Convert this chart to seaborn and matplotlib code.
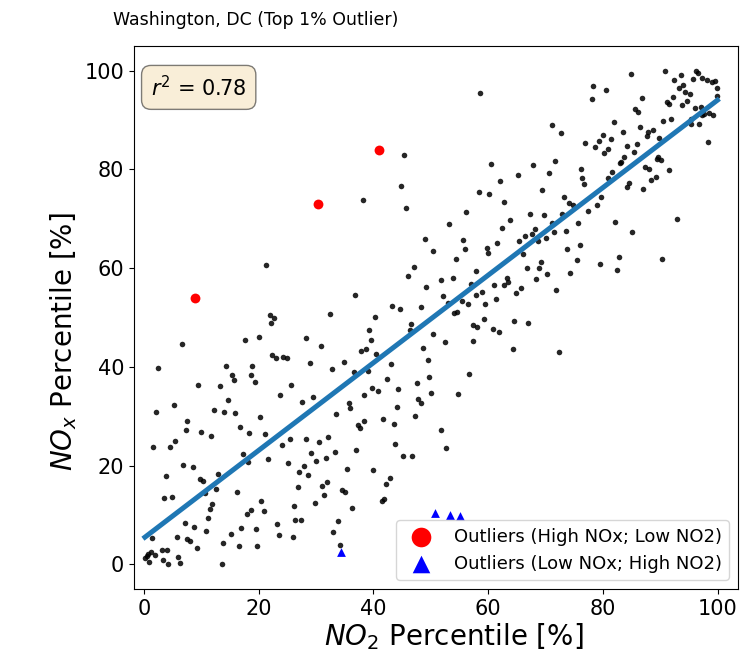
# NO2 vs NOx percentile scatter for Washington, DC with regression line
import seaborn as sb
import matplotlib
matplotlib.use('Agg')
import matplotlib.pyplot as plt
import numpy as np

# background points (NO2 percentile, NOx percentile)
no2_pct = [
    2.2, 7.6, 7.3, 10.0, 11.7, 5.4, 4.6, 1.6, 6.8, 8.5, 3.8, 9.8, 10.4, 13.0, 12.5, 10.6, 4.9, 3.5, 11.9, 11.5,
    11.1, 7.1, 8.8, 10.9, 5.7, 1.4, 7.6, 8.1, 9.2, 4.1, 3.1, 1.2, 0.8, 0.5, 0.2, 0.9, 1.9, 3.4, 4.3, 6.0,
    6.3, 13.6, 13.8, 15.2, 16.5, 17.0, 17.9, 18.7, 20.5, 20.9, 19.5, 19.8, 23.2, 23.5, 16.3, 17.3, 18.1, 20.3, 18.4, 21.1,
    16.8, 12.2, 14.0, 15.9, 21.7, 24.0,
    21.3, 21.9, 22.7, 22.2, 20.1, 17.6, 6.6, 22.4, 23.0, 24.3, 2.4, 14.4, 18.9, 15.4, 15.7, 18.7, 19.3, 9.5, 13.3, 23.8,
    14.7, 5.2,
    33.5, 38.4, 37.3, 37.6, 41.6, 43.5, 47.3, 25.4, 28.3, 30.5, 32.1, 43.8, 29.2, 30.0, 31.7, 33.3, 37.0, 25.2, 27.9, 27.0,
    28.6, 35.4, 39.9, 45.1, 46.7, 26.8, 31.1, 31.9, 31.4, 34.6, 35.1, 42.8, 42.2, 29.8, 36.3, 41.5, 41.9, 26.2, 26.4, 27.3,
    33.9, 33.0, 26.0, 34.1, 51.7, 52.7,
    45.4, 44.8, 38.1, 45.7,
    58.6, 71.1, 72.6, 60.5, 67.8, 71.6, 65.1, 70.6, 62.1, 76.2, 76.4, 76.6, 58.3, 60.2, 69.4, 62.7, 73.2, 74.0, 74.7, 56.2,
    67.3, 69.7, 72.9, 63.8, 53.1, 71.1, 75.7, 76.9,
    84.8, 90.8, 96.2, 96.6, 93.5, 92.3, 97.3, 98.1, 99.0, 99.5, 95.6, 94.0, 93.2, 94.3, 95.1, 99.9, 78.3, 80.5, 78.0, 86.7,
    92.1, 91.1, 91.4, 94.6, 93.8, 99.8, 85.6, 86.1, 96.0, 97.0, 97.3, 97.6, 99.2, 98.4, 90.5, 91.8, 95.3, 95.3, 96.7, 81.9,
    86.4, 88.7, 87.8, 87.6, 83.5, 79.9, 79.2, 81.3, 78.6, 80.8, 80.2, 89.8, 89.6, 89.3, 90.0, 84.1, 85.9, 85.3, 83.7, 83.1,
    82.9, 98.3, 91.5, 87.3, 88.0, 81.6, 80.9, 89.2, 88.4, 84.5, 84.2, 87.0, 79.7, 78.9, 77.3, 82.1, 92.9,
    85.1, 82.7, 79.4, 82.4, 90.2,
    62.4, 55.6, 55.9, 54.4, 59.7, 59.9, 61.6, 65.4, 66.4, 67.6, 68.1, 68.6, 70.0, 71.4, 73.5, 73.7, 75.9, 75.4, 74.3, 66.0,
    66.7, 69.2, 68.9, 70.2, 68.3, 71.8, 51.8, 53.8, 57.9, 57.0, 52.1, 53.0, 55.4, 56.5, 57.9, 58.9, 59.4, 61.0, 62.8, 63.2,
    63.5, 61.3, 64.9, 65.7, 54.0, 54.6, 59.2, 57.4, 58.1, 60.8, 61.9, 64.5, 67.0, 52.4, 57.3, 64.3, 72.4, 56.7, 54.8,
    48.9, 50.3, 47.0, 46.0, 49.2, 36.8, 43.3, 44.6, 48.3, 32.5, 40.3, 46.5, 46.3, 50.4, 39.2, 39.5, 28.2, 30.8, 37.9, 38.7,
    40.5, 48.6, 25.0, 28.9, 34.9, 49.5, 32.7, 36.6, 39.0, 43.0, 49.7, 25.7, 42.4, 47.6, 39.7, 40.8, 44.3, 50.0, 27.6, 29.5,
    38.4, 35.7, 36.0, 44.1, 47.8, 48.2,
]
nox_pct = [
    30.9, 29.1, 27.2, 26.9, 26.0, 25.0, 23.8, 23.8, 20.1, 19.7, 17.8, 17.2, 16.9, 18.2, 15.3, 14.4, 13.7, 13.4, 12.2, 11.2,
    9.3, 8.4, 7.5, 6.8, 5.6, 5.3, 5.1, 4.7, 3.4, 3.0, 2.8, 2.4, 2.1, 1.7, 1.2, 0.5, 1.8, 0.9, 0.0, 1.5,
    0.2, 0.1, 4.3, 6.1, 3.7, 7.4, 10.2, 11.0, 12.8, 10.9, 7.2, 3.7, 8.1, 5.9, 14.7, 22.3, 20.7, 29.8, 26.6, 26.3,
    27.9, 31.3, 30.9, 30.7, 21.3, 24.2,
    60.6, 50.5, 50.0, 48.9, 46.1, 45.4, 44.6, 42.4, 41.7, 42.0, 39.8, 40.2, 40.2, 38.3, 37.3, 38.3, 37.0, 36.3, 36.1, 34.2,
    33.3, 32.3,
    30.4, 29.1, 28.2, 27.6, 29.4, 28.4, 30.1, 25.4, 25.4, 24.7, 25.7, 24.4, 22.5, 20.9, 21.6, 22.8, 23.2, 20.5, 20.0, 18.8,
    18.1, 19.4, 19.1, 21.9, 21.9, 15.6, 15.9, 16.6, 14.0, 15.1, 14.6, 17.5, 16.3, 12.5, 11.5, 12.9, 13.2, 11.8, 9.0, 9.0,
    8.7, 6.5, 5.6, 4.0, 27.3, 23.5,
    82.9, 76.7, 73.8, 72.2,
    95.5, 88.9, 87.3, 81.1, 80.8, 81.7, 78.9, 79.2, 77.7, 80.1, 78.3, 77.0, 75.4, 75.1, 75.8, 73.5, 74.5, 73.1, 72.7, 71.4,
    71.0, 70.7, 71.0, 69.8, 68.9, 69.2, 69.2, 85.4,
    99.3, 99.9, 99.9, 99.5, 99.1, 98.1, 98.6, 98.1, 97.8, 98.0, 98.3, 97.2, 96.4, 95.7, 95.3, 96.4, 96.8, 96.1, 94.3, 94.5,
    94.6, 93.6, 93.3, 93.9, 93.0, 94.9, 92.2, 91.7, 92.4, 92.7, 91.0, 91.2, 91.0, 91.4, 89.9, 90.2, 90.2, 89.2, 89.2, 89.6,
    88.5, 88.0, 87.6, 86.8, 87.6, 87.0, 85.8, 86.1, 84.5, 84.2, 83.3, 86.4, 82.5, 82.1, 81.9, 84.8, 85.1, 83.6, 82.6, 81.6,
    81.4, 85.5, 79.9, 80.4, 80.1, 79.5, 78.3, 78.5, 77.9, 77.3, 76.4, 76.0, 74.5, 72.7, 71.6, 69.4, 70.0,
    67.3, 62.2, 60.9, 59.7, 61.9,
    68.2, 65.7, 63.8, 61.9, 64.1, 63.1, 65.1, 65.4, 66.6, 67.0, 67.9, 65.5, 66.2, 67.3, 67.6, 63.8, 64.7, 61.6, 59.1, 62.9,
    60.0, 61.3, 60.0, 58.8, 57.8, 55.6, 57.5, 58.1, 59.4, 56.8, 54.4, 53.0, 53.3, 52.7, 54.6, 55.2, 52.7, 56.5, 56.5, 58.1,
    57.1, 53.7, 55.0, 55.9, 50.9, 51.2, 49.6, 48.5, 48.1, 47.7, 47.1, 49.3, 48.9, 45.0, 45.2, 43.6, 43.0, 38.6, 34.5,
    65.9, 63.5, 60.3, 58.4, 56.2, 54.6, 52.4, 51.8, 52.1, 50.8, 50.2, 48.6, 47.5, 46.6, 47.4, 45.5, 45.8, 44.3, 43.3, 43.6,
    42.7, 43.9, 41.7, 40.8, 41.0, 41.4, 39.6, 39.0, 39.2, 40.5, 37.9, 36.3, 37.6, 36.7, 35.8, 35.2, 35.5, 34.8, 32.9, 33.8,
    34.4, 32.6, 31.7, 31.9, 33.5, 32.6,
]

# top 1% outliers
high_nox_x = [8.9, 30.3, 41.0]
high_nox_y = [54.0, 73.0, 83.9]
low_nox_x = [34.4, 50.8, 53.4, 55.1]
low_nox_y = [2.4, 10.4, 10.0, 9.8]

r2_label = '0.78'

all_x = np.array(no2_pct + high_nox_x + low_nox_x)
all_y = np.array(nox_pct + high_nox_y + low_nox_y)

fig = plt.figure(figsize=(7.47, 6.65), dpi=100)
ax = fig.add_axes([0.1794, 0.1143, 0.8086, 0.8165])

# Plotting the points and the fit
sb.scatterplot(x=no2_pct, y=nox_pct, color='k', s=16, linewidth=0, alpha=0.85, ax=ax)
sb.regplot(x=all_x, y=all_y, scatter=False, ci=None, ax=ax,
           line_kws=dict(color='#1f77b4', lw=3.6, zorder=2))
sb.scatterplot(x=high_nox_x, y=high_nox_y, color='red', marker='o', s=50, linewidth=0,
               label='Outliers (High NOx; Low NO2)', ax=ax, zorder=3)
sb.scatterplot(x=low_nox_x, y=low_nox_y, color='blue', marker='^', s=40, linewidth=0,
               label='Outliers (Low NOx; High NO2)', ax=ax, zorder=3)

ax.set_xlim(-1.7, 103.5)
ax.set_ylim(-5, 105)
ax.set_xticks([0, 20, 40, 60, 80, 100])
ax.set_yticks([0, 20, 40, 60, 80, 100])
ax.tick_params(labelsize=15)
ax.set_xlabel('$NO_2$ Percentile [%]', fontsize=20, labelpad=2)
ax.set_ylabel('$NO_x$ Percentile [%]', fontsize=20)
# labels sit a little off the axes centre in the original
ax.xaxis.label.set_x(0.53)
ax.yaxis.label.set_y(0.455)

ax.text(0.028, 0.947, '$r^2$ = ' + r2_label, transform=ax.transAxes, fontsize=15,
        va='top', ha='left', bbox=dict(boxstyle='round,pad=0.45', facecolor='wheat', alpha=0.5))
ax.legend(loc='lower right', fontsize=13, markerscale=2)

fig.text(0.151, 0.970, 'Washington, DC (Top 1% Outlier)', fontsize=12.5, va='center', ha='left')

plt.savefig('out.png', dpi=100)
